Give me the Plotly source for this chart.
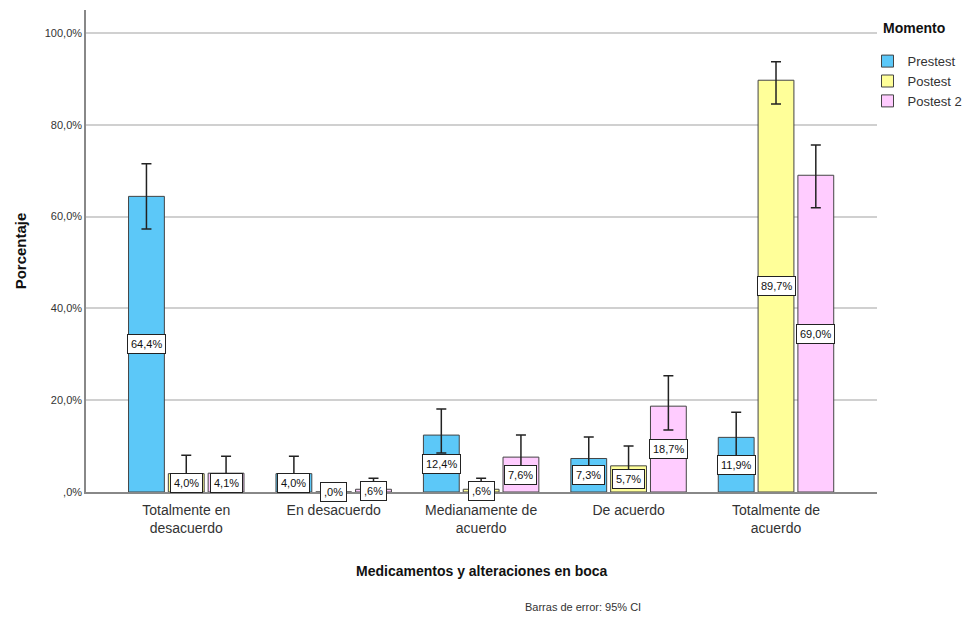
import plotly.graph_objects as go

categories = ["Totalmente en<br>desacuerdo", "En desacuerdo", "Medianamente de<br>acuerdo",
              "De acuerdo", "Totalmente de<br>acuerdo"]
series_names = ["Prestest", "Postest", "Postest 2"]
prestest = [64.4, 4.0, 12.4, 7.3, 11.9]
postest = [4.0, 0.0, 0.6, 5.7, 89.7]
postest2 = [4.1, 0.6, 7.6, 18.7, 69.0]
# 95% CI bounds
prestest_hi = [71.5, 7.8, 18.1, 12.0, 17.4]
prestest_lo = [57.3, 2.2, 8.5, 4.4, 7.8]
postest_hi = [8.0, None, 3.0, 10.0, 93.7]
postest_lo = [2.2, None, 0.0, 2.1, 84.5]
postest2_hi = [7.8, 3.0, 12.4, 25.3, 75.6]
postest2_lo = [2.2, 0.0, 3.9, 13.5, 61.9]
label_texts = {
    "Prestest": ["64,4%", "4,0%", "12,4%", "7,3%", "11,9%"],
    "Postest": ["4,0%", ",0%", ",6%", "5,7%", "89,7%"],
    "Postest 2": ["4,1%", ",6%", "7,6%", "18,7%", "69,0%"],
}
ytick_vals = [0, 20, 40, 60, 80, 100]
ytick_text = [",0%", "20,0%", "40,0%", "60,0%", "80,0%", "100,0%"]

colors = ["#5CC8F8", "#FFFF99", "#FFCCFF"]
FONT = "Liberation Sans, Arial, sans-serif"

values = [prestest, postest, postest2]
his = [prestest_hi, postest_hi, postest2_hi]
los = [prestest_lo, postest_lo, postest2_lo]

BARGAP = 0.19
fig = go.Figure()
for name, vals, hi, lo, col in zip(series_names, values, his, los, colors):
    up = [(h - v) if h is not None else float("nan") for h, v in zip(hi, vals)]
    dn = [(v - l) if l is not None else float("nan") for l, v in zip(lo, vals)]
    fig.add_trace(go.Bar(
        name=name, x=categories, y=vals,
        marker=dict(color=col, line=dict(color="#444444", width=1)),
        error_y=dict(type="data", symmetric=False, array=up, arrayminus=dn,
                     color="#222222", thickness=1.5, width=5),
    ))

# value labels in white boxes at bar mid-height
nser = len(series_names)
slot = (1 - BARGAP) / nser
for k, name in enumerate(series_names):
    off = (k - (nser - 1) / 2) * slot
    for i, v in enumerate(values[k]):
        fig.add_annotation(
            x=i + off, y=v / 2, xref="x", yref="y", text=label_texts[name][i],
            showarrow=False, bgcolor="white", bordercolor="#222222", borderwidth=1,
            borderpad=3, font=dict(family=FONT, size=11, color="#111111"),
        )

fig.add_annotation(
    x=0.5, y=-0.164, xref="paper", yref="paper", yanchor="middle",
    text="<b>Medicamentos y alteraciones en boca</b>",
    showarrow=False, font=dict(family=FONT, size=14, color="#111111"),
)
fig.add_annotation(
    x=0.628, y=-0.2386, xref="paper", yref="paper", yanchor="middle",
    text="Barras de error: 95% CI",
    showarrow=False, font=dict(family=FONT, size=11, color="#333333"),
)
# legend heading
fig.add_annotation(
    x=1.005, y=0.963, xref="paper", yref="paper", xanchor="left", yanchor="middle",
    text="<b>Momento</b>", showarrow=False,
    font=dict(family=FONT, size=14, color="#111111"),
)

fig.update_layout(
    width=963, height=622,
    margin=dict(l=86, r=86, t=10, b=130, autoexpand=False),
    paper_bgcolor="white", plot_bgcolor="white",
    barmode="group", bargap=BARGAP, bargroupgap=0.1,
    font=dict(family=FONT, color="#333333"),
    legend=dict(
        x=0.988, xanchor="left", y=0.925, yanchor="top",
        font=dict(family=FONT, size=13, color="#333333"),
        itemwidth=30, tracegroupgap=0, bgcolor="rgba(0,0,0,0)",
    ),
    xaxis=dict(
        range=[-0.68, 4.685], showline=True, linecolor="#888888", linewidth=1.5,
        ticks="", tickfont=dict(family=FONT, size=14, color="#333333"),
        ticklabelstandoff=4, showgrid=False,
    ),
    yaxis=dict(
        range=[0, 105], tickvals=ytick_vals, ticktext=ytick_text,
        showline=True, linecolor="#888888", linewidth=1.5,
        showgrid=True, gridcolor="#D0D0D0", gridwidth=1.5, zeroline=False,
        ticks="", tickfont=dict(family=FONT, size=11, color="#333333"),
        title=dict(text="<b>Porcentaje</b>", font=dict(family=FONT, size=15, color="#111111"),
                   standoff=14),
    ),
)

fig.write_html("out.html")
